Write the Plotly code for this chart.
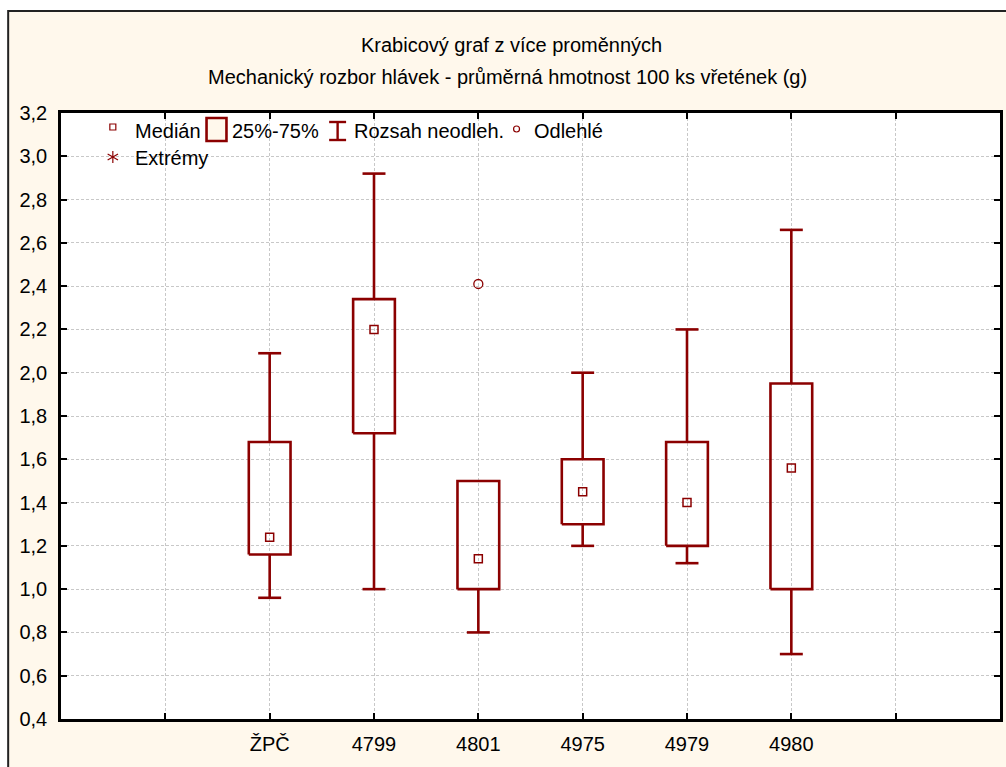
import plotly.graph_objects as go

# ---------------- data ----------------
categories = ["ŽPČ", "4799", "4801", "4975", "4979", "4980"]
q1_values = [1.16, 1.72, 1.00, 1.30, 1.20, 1.00]
median_values = [1.24, 2.20, 1.14, 1.45, 1.40, 1.56]
q3_values = [1.68, 2.34, 1.50, 1.60, 1.68, 1.95]
lower_values = [0.96, 1.00, 0.80, 1.20, 1.12, 0.70]
upper_values = [2.09, 2.92, 1.50, 2.00, 2.20, 2.66]
outlier_categories = ["4801"]
outlier_values = [2.41]

title_line1 = "Krabicový graf z více proměnných"
title_line2 = "Mechanický rozbor hlávek - průměrná hmotnost 100 ks vřetének (g)"
legend_labels = ["Medián", "25%-75%", "Rozsah neodleh.", "Odlehlé", "Extrémy"]

# ---------------- style ----------------
RED = "#8B0000"
BEIGE = "#FFF8EC"
GRID = "#c8c8c8"
FONT = "Liberation Sans, Arial, sans-serif"
BOX_HALF = 0.20
CAP_HALF = 0.11

# layout geometry (pixels)
WIDTH, HEIGHT = 1006, 767
L, R, T, B = 61, 1003, 113, 719
PW, PH = R - L, B - T


def px(x):
    return (x - L) / PW


def py(y):
    return (B - y) / PH


pos = list(range(len(categories)))

# build box outlines / whiskers / caps from data
bx, by = [], []
for i, c in enumerate(pos):
    q1, q3 = q1_values[i], q3_values[i]
    lo, hi = lower_values[i], upper_values[i]
    bx += [c - BOX_HALF, c + BOX_HALF, c + BOX_HALF, c - BOX_HALF, c - BOX_HALF, None]
    by += [q1, q1, q3, q3, q1, None]
    if hi > q3:
        bx += [c, c, None, c - CAP_HALF, c + CAP_HALF, None]
        by += [q3, hi, None, hi, hi, None]
    if lo < q1:
        bx += [c, c, None, c - CAP_HALF, c + CAP_HALF, None]
        by += [q1, lo, None, lo, lo, None]

fig = go.Figure()
fig.add_trace(go.Scatter(
    x=bx, y=by, mode="lines",
    line=dict(color=RED, width=2.6),
    hoverinfo="skip", showlegend=False,
))
fig.add_trace(go.Scatter(
    x=pos, y=median_values, mode="markers",
    marker=dict(symbol="square-open", size=8, color=RED, line=dict(width=1.5, color=RED)),
    showlegend=False,
))
fig.add_trace(go.Scatter(
    x=[categories.index(c) for c in outlier_categories], y=outlier_values, mode="markers",
    marker=dict(symbol="circle-open", size=9, color=RED, line=dict(width=1.3, color=RED)),
    showlegend=False,
))

shapes = []
shapes.append(dict(type="rect", xref="paper", yref="paper",
                   x0=px(8), x1=px(1012), y0=py(775), y1=py(11),
                   fillcolor=BEIGE, line=dict(color="#222222", width=2), layer="below"))
shapes.append(dict(type="rect", xref="paper", yref="paper",
                   x0=0, x1=1, y0=0, y1=1,
                   fillcolor="white", line=dict(width=0), layer="below"))

# legend icons
shapes.append(dict(type="rect", xref="paper", yref="paper",
                   x0=px(110), x1=px(116), y0=py(130), y1=py(124),
                   line=dict(color=RED, width=1.2), fillcolor="white"))
shapes.append(dict(type="rect", xref="paper", yref="paper",
                   x0=px(207), x1=px(227), y0=py(141), y1=py(118),
                   line=dict(color=RED, width=2.6), fillcolor=BEIGE))
shapes.append(dict(type="line", xref="paper", yref="paper",
                   x0=px(338.5), x1=px(338.5), y0=py(122), y1=py(140),
                   line=dict(color=RED, width=2.4)))
for yy in (122, 140):
    shapes.append(dict(type="line", xref="paper", yref="paper",
                       x0=px(330), x1=px(347), y0=py(yy), y1=py(yy),
                       line=dict(color=RED, width=2.4)))
shapes.append(dict(type="circle", xref="paper", yref="paper",
                   x0=px(515), x1=px(521), y0=py(132), y1=py(126),
                   line=dict(color=RED, width=1.2)))
# asterisk
cx, cy = 113, 157
for (x0, y0, x1, y1) in [(cx, cy - 6, cx, cy + 6),
                         (cx - 5.2, cy - 3, cx + 5.2, cy + 3),
                         (cx - 5.2, cy + 3, cx + 5.2, cy - 3)]:
    shapes.append(dict(type="line", xref="paper", yref="paper",
                       x0=px(x0), x1=px(x1), y0=py(y0), y1=py(y1),
                       line=dict(color=RED, width=1.2)))

annotations = []
annotations.append(dict(text=title_line1, xref="paper", yref="paper",
                        x=px(513), y=py(45), xanchor="center", yanchor="middle",
                        showarrow=False, font=dict(family=FONT, size=20, color="black")))
annotations.append(dict(text=title_line2, xref="paper", yref="paper",
                        x=px(509), y=py(77), xanchor="center", yanchor="middle",
                        showarrow=False, font=dict(family=FONT, size=20, color="black")))
legend_pos = [(133, 131), (231, 131), (353, 131), (534, 131), (133, 158)]
for lab, (lx, ly) in zip(legend_labels, legend_pos):
    annotations.append(dict(text=lab, xref="paper", yref="paper",
                            x=px(lx), y=py(ly), xanchor="left", yanchor="middle",
                            showarrow=False, font=dict(family=FONT, size=20, color="black")))

tickvals_x = [-1] + pos + [len(categories)]
ticktext_x = [""] + categories + [""]

fig.update_layout(
    width=WIDTH, height=HEIGHT,
    margin=dict(l=L, r=WIDTH - R, t=T, b=HEIGHT - B, pad=0),
    paper_bgcolor="white", plot_bgcolor="white",
    separators=", ",
    font=dict(family=FONT, size=20, color="black"),
    shapes=shapes, annotations=annotations,
    showlegend=False,
    xaxis=dict(
        range=[-2, len(categories) + 1],
        tickmode="array", tickvals=tickvals_x, ticktext=ticktext_x,
        showgrid=True, gridcolor=GRID, griddash="3px,2px", gridwidth=1,
        showline=True, linecolor="black", linewidth=2.6, mirror="ticks",
        ticks="inside", ticklen=6, tickwidth=2.4, tickcolor="black",
        zeroline=False, ticklabelstandoff=5,
        tickfont=dict(family=FONT, size=20),
    ),
    yaxis=dict(
        range=[0.4, 3.2], tick0=0.4, dtick=0.2, tickformat=".1f",
        showgrid=True, gridcolor=GRID, griddash="3px,2px", gridwidth=1,
        showline=True, linecolor="black", linewidth=2.6, mirror="ticks",
        ticks="inside", ticklen=6, tickwidth=2.4, tickcolor="black",
        zeroline=False, ticklabelstandoff=7,
        tickfont=dict(family=FONT, size=20),
    ),
)

fig.write_html("out.html")
